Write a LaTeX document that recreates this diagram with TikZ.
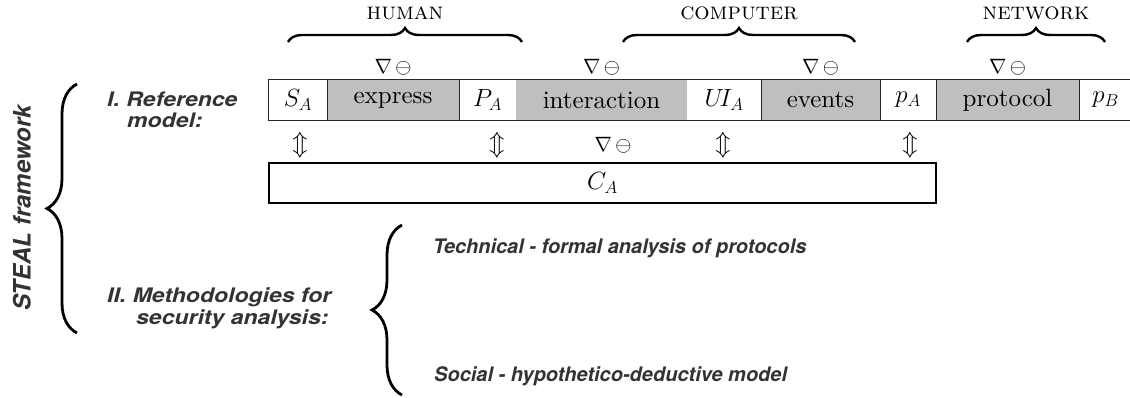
\documentclass[tikz,border=0pt]{standalone}
\usepackage{fontspec}
\newfontfamily\hv{TeX Gyre Heros}
\newfontfamily\cmten{lmroman10-regular.otf}
\newfontfamily\cmcaps{lmromancaps10-regular.otf}
\usetikzlibrary{decorations.pathreplacing}
\definecolor{cellgray}{HTML}{BFBFBF}
\definecolor{labelgray}{HTML}{333333}
\newcommand{\widen}[1]{\scalebox{1.15}[1]{#1}}
\tikzset{
  cell/.style={inner sep=0pt, minimum height=40pt, font=\fontsize{25}{30}\cmten},
  graycell/.style={cell, fill=cellgray},
  whitecell/.style={cell, fill=white},
  sym/.style={inner sep=0pt, font=\fontsize{20}{24}\selectfont},
  arr/.style={inner sep=0pt, font=\fontsize{23}{26}\selectfont},
  group/.style={inner sep=0pt, font=\fontsize{24}{26}\cmcaps},
  lab/.style={inner sep=0pt, text=labelgray, font=\fontsize{20}{22}\hv\bfseries\itshape},
  boxline/.style={line width=1.3pt, black!85},
  topbrace/.style={decorate, decoration={brace, amplitude=14pt}, line width=2.4pt},
  bigbrace/.style={decorate, decoration={brace, amplitude=30pt}, line width=2.8pt},
}
\begin{document}
\begin{tikzpicture}[x=1pt, y=-1pt]
\useasboundingbox (0,0) rectangle (1130,397);

% reference model row
\node[whitecell, minimum width=58pt]  (SA)  at (298,100)    {$S_A$};
\node[graycell,  minimum width=132pt] (ex)  at (393,100)    {express};
\node[whitecell, minimum width=57pt]  (PA)  at (487.5,100)  {$P_A$};
\node[graycell,  minimum width=171pt] (int) at (601.5,100)  {interaction};
\node[whitecell, minimum width=74pt]  (UI)  at (724,100)    {$U\!I_A$};
\node[graycell,  minimum width=119pt] (ev)  at (820.5,100)  {events};
\node[whitecell, minimum width=56pt]  (pa)  at (908,100)    {$p_A$};
\node[graycell,  minimum width=143pt] (pr)  at (1007.5,100) {protocol};
\node[whitecell, minimum width=53pt]  (pb)  at (1105.5,100) {$p_B$};

% outline of the row and its dividers
\draw[boxline] (pb.north east) -- (SA.north west) -- (SA.south west) -- (pb.south east);
\foreach \c in {SA, ex, UI, ev, pa, pr}
  \draw[boxline] (\c.north east) -- (\c.south east);

% channel box
\node[cell, draw, line width=1.3pt, minimum width=667pt] (CA) at (602.5,183) {$C_A$};

% attacker symbols
\node[sym] (d1) at (393,67)    {$\nabla\,\ominus$};
\node[sym] (d2) at (601.5,67)  {$\nabla\,\ominus$};
\node[sym] (d3) at (820.5,67)  {$\nabla\,\ominus$};
\node[sym] (d4) at (1007.5,67) {$\nabla\,\ominus$};
\node[sym] (d5) at (613,145)   {$\nabla\,\ominus$};

% links to the channel
\node[arr] (u1) at (300,145) {$\Updownarrow$};
\node[arr] (u2) at (497,145) {$\Updownarrow$};
\node[arr] (u3) at (723,145) {$\Updownarrow$};
\node[arr] (u4) at (910,145) {$\Updownarrow$};

% groups above the row
\coordinate (h1) at (288,42);  \coordinate (h2) at (522,42);
\coordinate (c1) at (623,42);  \coordinate (c2) at (855,42);
\coordinate (n1) at (967,42);  \coordinate (n2) at (1105,42);
\draw[topbrace] (h1) -- (h2);
\draw[topbrace] (c1) -- (c2);
\draw[topbrace] (n1) -- (n2);
\node[group] (hum) at (405,13)  {human};
\node[group] (com) at (739,13)  {computer};
\node[group] (net) at (1036,13) {network};

% framework brace and labels
\coordinate (f1) at (77,333); \coordinate (f2) at (77,84);
\draw[bigbrace] (f1) -- (f2);
\node[lab, font=\fontsize{24}{26}\hv\bfseries\itshape, rotate=90] (steal) at (22,208) {STEAL framework};

\node[lab, anchor=base west] (r1) at (107,106) {\widen{I. Reference}};
\node[lab, anchor=base west] (r2) at (127,127) {\widen{model:}};
\node[lab, anchor=base west] (m1) at (107,302) {\widen{II. Methodologies for}};
\node[lab, anchor=base west] (m2) at (136,324) {\widen{security analysis:}};

% methodologies brace
\coordinate (s1) at (402,395); \coordinate (s2) at (402,225);
\draw[bigbrace] (s1) -- (s2);
\node[lab, anchor=base west] (t1) at (433,253) {Technical - formal analysis of protocols};
\node[lab, anchor=base west] (t2) at (434,381) {Social - hypothetico-deductive model};
\end{tikzpicture}
\end{document}
